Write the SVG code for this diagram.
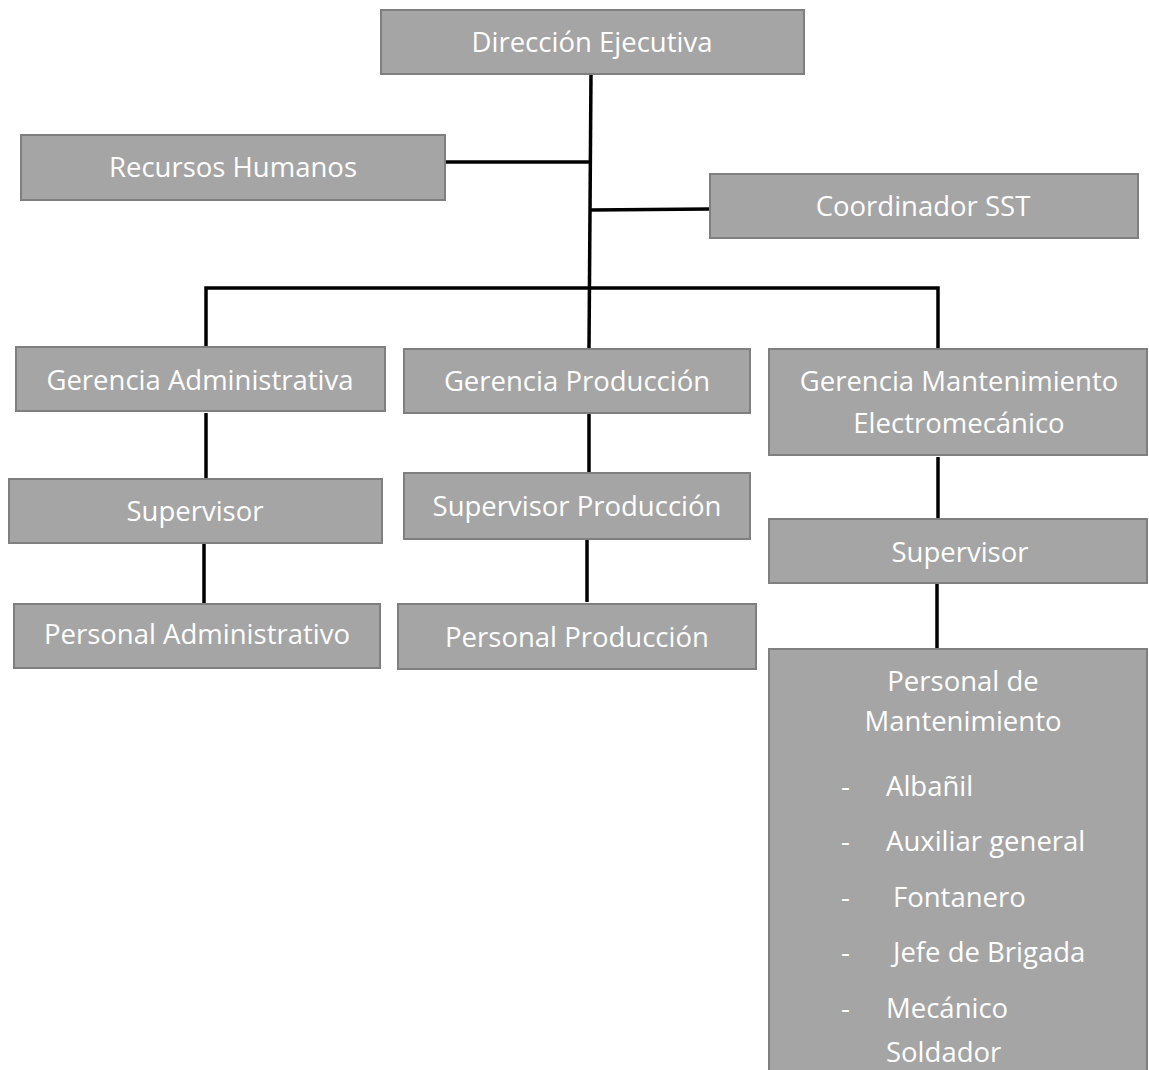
<svg xmlns="http://www.w3.org/2000/svg" width="1149" height="1070" viewBox="0 0 1149 1070">
<style>
.box{fill:#a5a5a5;stroke:#7f7f7f;stroke-width:2}
.t{fill:#ffffff;font-family:"Open Sans","Liberation Sans",sans-serif;font-size:27.5px;text-anchor:middle}
.l{fill:#ffffff;font-family:"Open Sans","Liberation Sans",sans-serif;font-size:27.5px}
.c{stroke:#000;stroke-width:3.5;fill:none}
</style>
<rect width="1149" height="1070" fill="#fff"/>
<g id="connectors">
<line class="c" x1="591" y1="74" x2="589" y2="349"/>
<line class="c" x1="445" y1="162" x2="590" y2="162"/>
<line class="c" x1="590" y1="210" x2="710" y2="209"/>
<polyline class="c" points="206,347 206,288 938,288 938,349"/>
<line class="c" x1="206" y1="413" x2="206" y2="479"/>
<line class="c" x1="204" y1="543" x2="204" y2="604"/>
<line class="c" x1="589" y1="413" x2="589" y2="473"/>
<line class="c" x1="587" y1="539" x2="587" y2="602"/>
<line class="c" x1="938" y1="457" x2="938" y2="519"/>
<line class="c" x1="937" y1="583" x2="937" y2="649"/>
</g>
<g id="direccion"><rect class="box" x="381" y="10" width="423" height="64"/><text class="t" x="592" y="52">Dirección Ejecutiva</text></g>
<g id="rrhh"><rect class="box" x="21" y="135" width="424" height="65"/><text class="t" x="233" y="177">Recursos Humanos</text></g>
<g id="sst"><rect class="box" x="710" y="174" width="428" height="64"/><text class="t" x="923" y="216">Coordinador SST</text></g>
<g id="ger-adm"><rect class="box" x="16" y="347" width="369" height="64"/><text class="t" x="200" y="390">Gerencia Administrativa</text></g>
<g id="ger-prod"><rect class="box" x="404" y="349" width="346" height="64"/><text class="t" x="577" y="391">Gerencia Producción</text></g>
<g id="ger-mant"><rect class="box" x="769" y="349" width="378" height="106"/><text class="t" x="959" y="391">Gerencia Mantenimiento</text><text class="t" x="959" y="433">Electromecánico</text></g>
<g id="sup-adm"><rect class="box" x="9" y="479" width="373" height="64"/><text class="t" x="195" y="521">Supervisor</text></g>
<g id="sup-prod"><rect class="box" x="404" y="473" width="346" height="66"/><text class="t" x="577" y="516">Supervisor Producción</text></g>
<g id="sup-mant"><rect class="box" x="769" y="519" width="378" height="64"/><text class="t" x="960" y="562">Supervisor</text></g>
<g id="pers-adm"><rect class="box" x="14" y="604" width="366" height="64"/><text class="t" x="197" y="644">Personal Administrativo</text></g>
<g id="pers-prod"><rect class="box" x="398" y="604" width="358" height="65"/><text class="t" x="577" y="647">Personal Producción</text></g>
<g id="pers-mant"><rect class="box" x="769" y="649" width="378" height="430"/>
<text class="t" x="963" y="691">Personal de</text>
<text class="t" x="963" y="731">Mantenimiento</text>
<text class="l" x="841" y="796">-</text><text class="l" x="886" y="796">Albañil</text>
<text class="l" x="841" y="851">-</text><text class="l" x="886" y="851">Auxiliar general</text>
<text class="l" x="841" y="907">-</text><text class="l" x="893" y="907">Fontanero</text>
<text class="l" x="841" y="962">-</text><text class="l" x="893" y="962">Jefe de Brigada</text>
<text class="l" x="841" y="1018">-</text><text class="l" x="886" y="1018">Mecánico</text>
<text class="l" x="886" y="1062">Soldador</text>
</g>
</svg>
